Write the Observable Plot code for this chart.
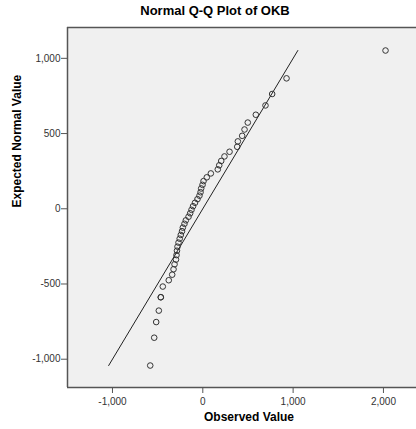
<!DOCTYPE html>
<html>
<head>
<meta charset="utf-8">
<script src="https://cdn.jsdelivr.net/npm/d3@7"></script>
<script src="https://cdn.jsdelivr.net/npm/@observablehq/plot@0.6"></script>
<style>
  body { margin: 0; background: #fff; font-family: "Liberation Sans", Arial, sans-serif; }
  #wrap { position: relative; width: 416px; height: 429px; }
  #title { position: absolute; left: 0; width: 430px; top: 3px; text-align: center; font-weight: bold; font-size: 13px; color: #000; }
  #chart { position: absolute; left: 0; top: 0; }
</style>
</head>
<body>
<div id="wrap"><div id="chart"></div><div id="title">Normal Q-Q Plot of OKB</div></div>
<script>
const observed = [-582, -538, -516, -487, -465, -465, -443, -377, -339, -324, -313, -297, -291, -286, -280, -269, -256, -244, -230, -221, -203, -188, -158, -140, -125, -108, -86, -59, -37, -25, -18, -3, 8, 44, 89, 166, 182, 204, 240, 296, 381, 388, 436, 462, 498, 587, 694, 768, 927, 2023];
const expected = [-1042, -857, -753, -677, -588, -588, -517, -475, -438, -402, -369, -338, -308, -279, -252, -225, -199, -174, -149, -125, -100, -77, -53, -30, -7, 17, 40, 64, 87, 110, 135, 159, 184, 209, 235, 262, 289, 318, 348, 379, 412, 448, 485, 527, 573, 625, 687, 763, 867, 1052];
const refLine = [-1042, 1052];
const xTicks = [-1000, 0, 1000, 2000];
const yTicks = [-1000, -500, 0, 500, 1000];
const xDomain = [-1498, 2366];
const yDomain = [-1188, 1205];
const xLabel = "Observed Value";
const yLabel = "Expected Normal Value";

const points = observed.map((o, i) => ({x: o, y: expected[i]}));
const fmt = d => d.toLocaleString("en-US");
const frameColor = "#555";

const chart = Plot.plot({
  width: 416,
  height: 429,
  marginLeft: 67,
  marginRight: 0,
  marginTop: 27,
  marginBottom: 42,
  style: {fontFamily: "Liberation Sans, Arial, sans-serif", fontSize: "10px", background: "transparent"},
  x: {domain: xDomain},
  y: {domain: yDomain},
  marks: [
    Plot.frame({fill: "#f0f0f0", stroke: null}),
    Plot.ruleX([xDomain[0]], {stroke: frameColor, strokeWidth: 1.5}),
    Plot.ruleY([yDomain[0]], {stroke: frameColor, strokeWidth: 1.5}),
    Plot.ruleY([yDomain[1]], {stroke: frameColor, strokeWidth: 1.5}),
    Plot.axisX({ticks: xTicks, tickFormat: fmt, tickSize: 6, tickPadding: 4, label: null, color: "#333", stroke: frameColor}),
    Plot.axisY({ticks: yTicks, tickFormat: fmt, tickSize: 6, tickPadding: 1, label: null, color: "#333", stroke: frameColor}),
    Plot.line(refLine.map(v => ({x: v, y: v})), {x: "x", y: "y", stroke: "#222", strokeWidth: 1}),
    Plot.dot(points, {x: "x", y: "y", r: 2.8, stroke: "#333", strokeWidth: 1, fill: "none"}),
    Plot.text([xLabel], {frameAnchor: "bottom", dy: 33, dx: 7, fontWeight: "bold", fontSize: 12, fill: "#000"}),
    Plot.text([yLabel], {frameAnchor: "left", dx: -50, rotate: -90, fontWeight: "bold", fontSize: 12, fill: "#000"})
  ]
});
document.getElementById("chart").appendChild(chart);
</script>
</body>
</html>
